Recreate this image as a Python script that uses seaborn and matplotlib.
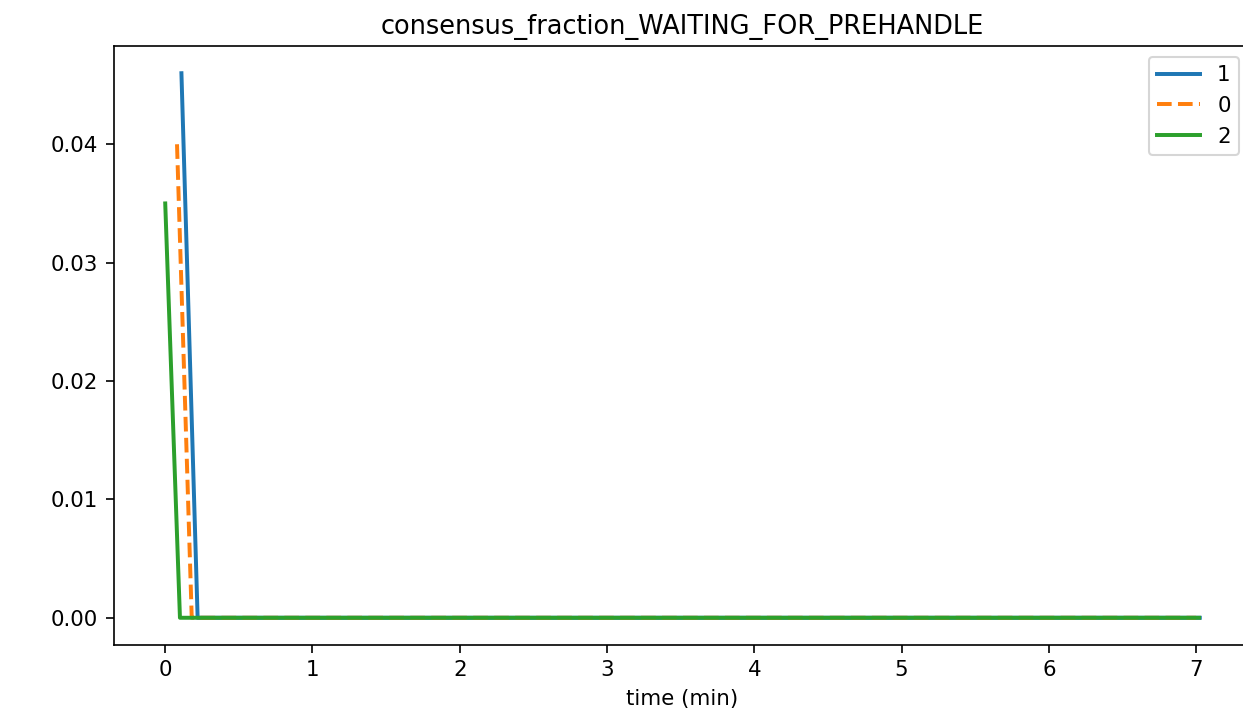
import matplotlib
matplotlib.use("Agg")
import matplotlib.pyplot as plt
import seaborn as sns
import pandas as pd

sns.set_style("ticks")
plt.style.use('default')
plt.rcParams['font.family'] = ['DejaVu Sans']
plt.rcParams['font.size'] = 10.25
plt.rcParams['xtick.major.size'] = 3.8
plt.rcParams['ytick.major.size'] = 3.8

# data
node_labels = ['1', '0', '2']
times_1 = [0.11, 0.22, 7.025]
vals_1 = [0.046, 0.0, 0.0]
times_0 = [0.08, 0.18, 7.0]
vals_0 = [0.040, 0.0, 0.0]
times_2 = [0.0, 0.10, 7.02]
vals_2 = [0.035, 0.0, 0.0]

rows = []
for lab, ts, vs in zip(node_labels, [times_1, times_0, times_2], [vals_1, vals_0, vals_2]):
    for t, v in zip(ts, vs):
        rows.append({'time': t, 'value': v, 'node': lab})
df = pd.DataFrame(rows)

fig, ax = plt.subplots(figsize=(1243/150, 721/150), dpi=150)
fig.subplots_adjust(left=113.5/1243, right=1251.5/1243, top=1-46/721, bottom=1-645/721)

palette = {'1': '#1f77b4', '0': '#ff7f0e', '2': '#2ca02c'}
dashes = {'1': '', '0': (3.7, 1.6), '2': ''}
sns.lineplot(data=df, x='time', y='value', hue='node', style='node',
             hue_order=node_labels, style_order=node_labels,
             palette=palette, dashes=dashes, linewidth=1.9, ax=ax, sort=False)

ax.set_title('consensus_fraction_WAITING_FOR_PREHANDLE')
ax.set_xlabel('time (min)')
ax.set_ylabel('')
ax.set_xticks([0, 1, 2, 3, 4, 5, 6, 7])
ax.set_yticks([0.0, 0.01, 0.02, 0.03, 0.04])
ax.set_yticklabels(['0.00', '0.01', '0.02', '0.03', '0.04'])
handles, labels = ax.get_legend_handles_labels()
ax.legend(handles, labels, loc='upper right', title=None,
          bbox_to_anchor=((1250 - 113.5) / (1251.5 - 113.5), 1.0))

fig.savefig('out.png', dpi=150)
